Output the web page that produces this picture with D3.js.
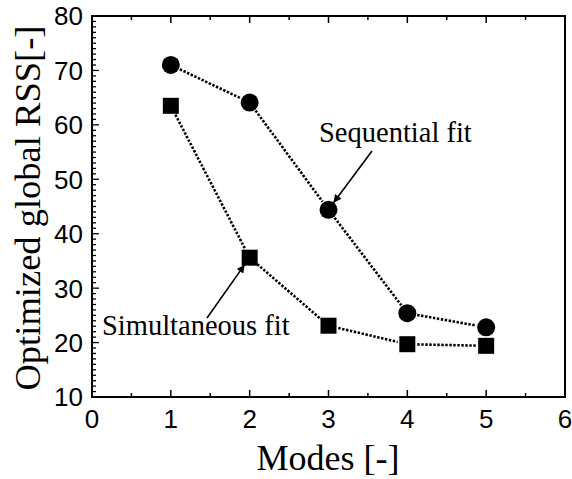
<!DOCTYPE html>
<html><head><meta charset="utf-8">
<script src="https://cdn.jsdelivr.net/npm/d3@7"></script>
<style>body{margin:0;background:#fff}svg{display:block}</style>
</head><body>
<script>
const modes = [1, 2, 3, 4, 5];
const sequentialFit = [71.0, 64.1, 44.4, 25.4, 22.8];
const simultaneousFit = [63.5, 35.6, 23.1, 19.7, 19.4];
const xTicks = [0, 1, 2, 3, 4, 5, 6];
const yTicks = [10, 20, 30, 40, 50, 60, 70, 80];

const W = 572, H = 479;
const svg = d3.select("body").append("svg").attr("width", W).attr("height", H);
const x = d3.scaleLinear().domain([0, 6]).range([92, 565]);
const y = d3.scaleLinear().domain([10, 80]).range([397, 16]);

const sans = "Liberation Sans, Arial, sans-serif";
const serif = "Liberation Serif, Times New Roman, serif";

// frame
svg.append("rect").attr("x", x(0)).attr("y", y(80)).attr("width", x(6) - x(0)).attr("height", y(10) - y(80))
  .attr("fill", "none").attr("stroke", "#000").attr("stroke-width", 2);

// bottom axis
const xMinor = d3.range(0, 6.01, 0.5);
const gx = svg.append("g").attr("transform", `translate(0,${y(10)})`);
gx.selectAll("line.t").data(xMinor).join("line")
  .attr("x1", d => x(d)).attr("x2", d => x(d)).attr("y1", 0)
  .attr("y2", d => Number.isInteger(d) ? -7 : -4).attr("stroke", "#000").attr("stroke-width", 1.5);
gx.selectAll("text").data(xTicks).join("text")
  .attr("x", d => x(d)).attr("y", 31).attr("text-anchor", "middle")
  .attr("font-family", sans).attr("font-size", 26).text(d => d);

// top axis ticks
const gt = svg.append("g").attr("transform", `translate(0,${y(80)})`);
gt.selectAll("line").data(xMinor).join("line")
  .attr("x1", d => x(d)).attr("x2", d => x(d)).attr("y1", 0)
  .attr("y2", d => Number.isInteger(d) ? 7 : 4).attr("stroke", "#000").attr("stroke-width", 1.5);

// left axis
const yMinor = d3.range(10, 80.01, 1);
const gy = svg.append("g").attr("transform", `translate(${x(0)},0)`);
gy.selectAll("line").data(yMinor).join("line")
  .attr("y1", d => y(d)).attr("y2", d => y(d)).attr("x1", 0)
  .attr("x2", d => d % 10 === 0 ? 7 : 4).attr("stroke", "#000").attr("stroke-width", 1.3);
gy.selectAll("text").data(yTicks).join("text")
  .attr("x", -9).attr("y", d => y(d)).attr("dy", "0.36em").attr("text-anchor", "end")
  .attr("font-family", sans).attr("font-size", 26).text(d => d);

// axis titles
svg.append("text").attr("x", 328).attr("y", 470).attr("text-anchor", "middle")
  .attr("font-family", serif).attr("font-size", 36).text("Modes [-]");
svg.append("text").attr("transform", "translate(40,208) rotate(-90)").attr("text-anchor", "middle")
  .attr("font-family", serif).attr("font-size", 36.5).text("Optimized global RSS[-]");

// dotted connecting lines with gaps at symbols
function drawSeries(vals) {
  const pts = modes.map((m, i) => [x(m), y(vals[i])]);
  const segs = [];
  for (let i = 0; i < pts.length - 1; i++) {
    const [x0, y0] = pts[i], [x1, y1] = pts[i + 1];
    const dx = x1 - x0, dy = y1 - y0, L = Math.hypot(dx, dy), g = 10;
    segs.push([x0 + dx * g / L, y0 + dy * g / L, x1 - dx * g / L, y1 - dy * g / L]);
  }
  svg.append("g").selectAll("line").data(segs).join("line")
    .attr("x1", d => d[0]).attr("y1", d => d[1]).attr("x2", d => d[2]).attr("y2", d => d[3])
    .attr("stroke", "#000").attr("stroke-width", 2.6).attr("stroke-dasharray", "2.4,1.6");
}
drawSeries(sequentialFit);
drawSeries(simultaneousFit);

svg.append("g").selectAll("circle").data(modes).join("circle")
  .attr("cx", d => x(d)).attr("cy", (d, i) => y(sequentialFit[i])).attr("r", 9).attr("fill", "#000");
svg.append("g").selectAll("rect").data(modes).join("rect")
  .attr("x", d => x(d) - 8).attr("y", (d, i) => y(simultaneousFit[i]) - 8)
  .attr("width", 16).attr("height", 16).attr("fill", "#000");

// annotations
svg.append("defs").append("marker").attr("id", "ah").attr("viewBox", "0 0 10 10")
  .attr("refX", 10).attr("refY", 5).attr("markerWidth", 11).attr("markerHeight", 8)
  .attr("markerUnits", "userSpaceOnUse").attr("orient", "auto")
  .append("path").attr("d", "M0,0L10,5L0,10Z").attr("fill", "#000");

svg.append("text").attr("x", 319).attr("y", 142).attr("font-family", serif).attr("font-size", 28.5)
  .text("Sequential fit");
svg.append("line").attr("x1", 372).attr("y1", 151)
  .attr("x2", x(3) + 5).attr("y2", y(sequentialFit[2]) - 7)
  .attr("stroke", "#000").attr("stroke-width", 1.6).attr("marker-end", "url(#ah)");

svg.append("text").attr("x", 102).attr("y", 335).attr("font-family", serif).attr("font-size", 28.5)
  .text("Simultaneous fit");
svg.append("line").attr("x1", 207).attr("y1", 318)
  .attr("x2", x(2) - 5).attr("y2", y(simultaneousFit[1]) + 7)
  .attr("stroke", "#000").attr("stroke-width", 1.6).attr("marker-end", "url(#ah)");
</script>
</body></html>
